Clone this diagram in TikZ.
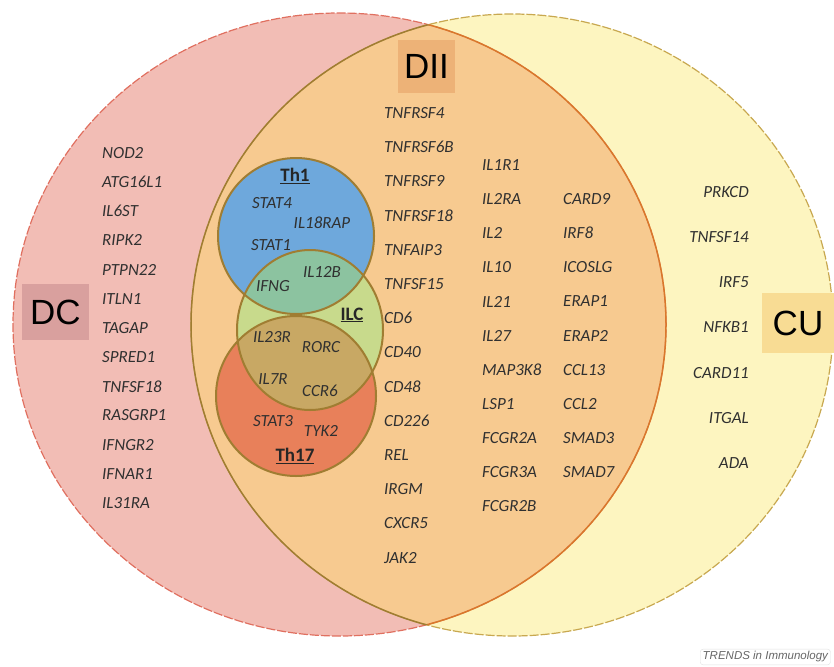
\documentclass[tikz,border=0pt]{standalone}
\usepackage{fontspec}
\setmainfont{Carlito}
\newfontfamily\bigsans{Liberation Sans}
\begin{document}
\begin{tikzpicture}[x=1pt,y=-1pt,
  gene/.style={font=\fontsize{17}{17}\selectfont\itshape,text=genetext,inner sep=0},
  cell/.style={font=\fontsize{19}{19}\selectfont\bfseries,text=black!85,inner sep=0},
  setbox/.style={font=\fontsize{35}{35}\bigsans,text=black,inner sep=0}]
\definecolor{dcpink}{HTML}{F2BDB5}
\definecolor{cuyellow}{HTML}{FDF5C0}
\definecolor{diiorange}{HTML}{F7CA90}
\definecolor{dcbox}{HTML}{D9A09E}
\definecolor{diibox}{HTML}{EDB277}
\definecolor{cubox}{HTML}{F8DC94}
\definecolor{thblue}{HTML}{6EA8DC}
\definecolor{ilcgreen}{HTML}{C8DA8C}
\definecolor{thred}{HTML}{E8805A}
\definecolor{bluegreen}{HTML}{8CC3A0}
\definecolor{redgreen}{HTML}{C8A864}
\definecolor{rim}{HTML}{A07D32}
\definecolor{dcrim}{HTML}{E07060}
\definecolor{curim}{HTML}{C8A850}
\definecolor{diirim}{HTML}{D9782B}
\definecolor{genetext}{HTML}{303030}
\useasboundingbox (0,0) rectangle (834,666);
% the two big sets and their overlap
\fill[dcpink] (339.5,324.5) ellipse [x radius=326.5pt,y radius=311.5pt];
\fill[cuyellow] (512,325) ellipse [x radius=321pt,y radius=311pt];
\begin{scope}
  \clip (339.5,324.5) ellipse [x radius=326.5pt,y radius=311.5pt];
  \fill[diiorange] (512,325) ellipse [x radius=321pt,y radius=311pt];
\end{scope}
\draw[dcrim,line width=1.2,dash pattern=on 9pt off 2pt] (339.5,324.5) ellipse [x radius=326.5pt,y radius=311.5pt];
\draw[curim,line width=1.2,dash pattern=on 9pt off 2pt] (512,325) ellipse [x radius=321pt,y radius=311pt];
\begin{scope}
  \clip (512,325) ellipse [x radius=321pt,y radius=311pt];
  \draw[diirim,line width=1.5] (339.5,324.5) ellipse [x radius=326.5pt,y radius=311.5pt];
\end{scope}
\begin{scope}
  \clip (339.5,324.5) ellipse [x radius=326.5pt,y radius=311.5pt];
  \draw[rim,line width=1.5] (512,325) ellipse [x radius=321pt,y radius=311pt];
\end{scope}
% cell type circles
\fill[thblue] (296,236) circle [radius=78pt];
\fill[ilcgreen] (310,330) ellipse [x radius=73pt,y radius=80pt];
\fill[thred] (296,396) circle [radius=80pt];
\begin{scope}
  \clip (310,330) ellipse [x radius=73pt,y radius=80pt];
  \fill[bluegreen] (296,236) circle [radius=78pt];
  \fill[redgreen] (296,396) circle [radius=80pt];
\end{scope}
\draw[rim,line width=2] (296,236) circle [radius=78pt];
\draw[rim,line width=2] (310,330) ellipse [x radius=73pt,y radius=80pt];
\draw[rim,line width=2] (296,396) circle [radius=80pt];
% set labels
\node[setbox,fill=dcbox,minimum width=67,minimum height=56] (dc) at (55.5,312) {DC};
\node[setbox,fill=diibox,minimum width=57,minimum height=53] (dii) at (426.5,66.5) {DII};
\node[setbox,fill=cubox,minimum width=72,minimum height=60] (cu) at (798,323) {CU};
\node[cell] (th1) at (295,176) {\underline{Th1}};
\node[cell] (ilc) at (352,315) {\underline{ILC}};
\node[cell] (th17) at (295,456) {\underline{Th17}};
% gene lists
\foreach \g [count=\i] in {NOD2,ATG16L1,IL6ST,RIPK2,PTPN22,ITLN1,TAGAP,SPRED1,TNFSF18,RASGRP1,IFNGR2,IFNAR1,IL31RA}
  {\node[gene,anchor=west] (dcg\i) at (102,123.8+29.17*\i) {\g};}
\foreach \g [count=\i] in {TNFRSF4,TNFRSF6B,TNFRSF9,TNFRSF18,TNFAIP3,TNFSF15,CD6,CD40,CD48,CD226,REL,IRGM,CXCR5,JAK2}
  {\node[gene,anchor=west] (diia\i) at (384,78.8+34.2*\i) {\g};}
\foreach \g [count=\i] in {IL1R1,IL2RA,IL2,IL10,IL21,IL27,MAP3K8,LSP1,FCGR2A,FCGR3A,FCGR2B}
  {\node[gene,anchor=west] (diib\i) at (482,131+34.1*\i) {\g};}
\foreach \g [count=\i] in {CARD9,IRF8,ICOSLG,ERAP1,ERAP2,CCL13,CCL2,SMAD3,SMAD7}
  {\node[gene,anchor=west] (diic\i) at (563,165+34.1*\i) {\g};}
\foreach \g [count=\i] in {PRKCD,TNFSF14,IRF5,NFKB1,CARD11,ITGAL,ADA}
  {\node[gene,anchor=east] (cug\i) at (749,146.6+45.2*\i) {\g};}
\foreach \g/\px/\py in {STAT4/272/203,IL18RAP/322/223,STAT1/271/245,IL12B/322/272,IFNG/273/286,
  IL23R/272/337,RORC/321/347,IL7R/273/379,CCR6/320/391,STAT3/273/421,TYK2/321/431}
  {\node[gene] (\g) at (\px,\py) {\g};}
\node[font=\fontsize{11.5}{11.5}\bigsans\itshape,text=black!60,draw=black!12,rounded corners=3,
  anchor=west,inner sep=2.5] (trends) at (700,657) {TRENDS in Immunology};
\end{tikzpicture}
\end{document}
